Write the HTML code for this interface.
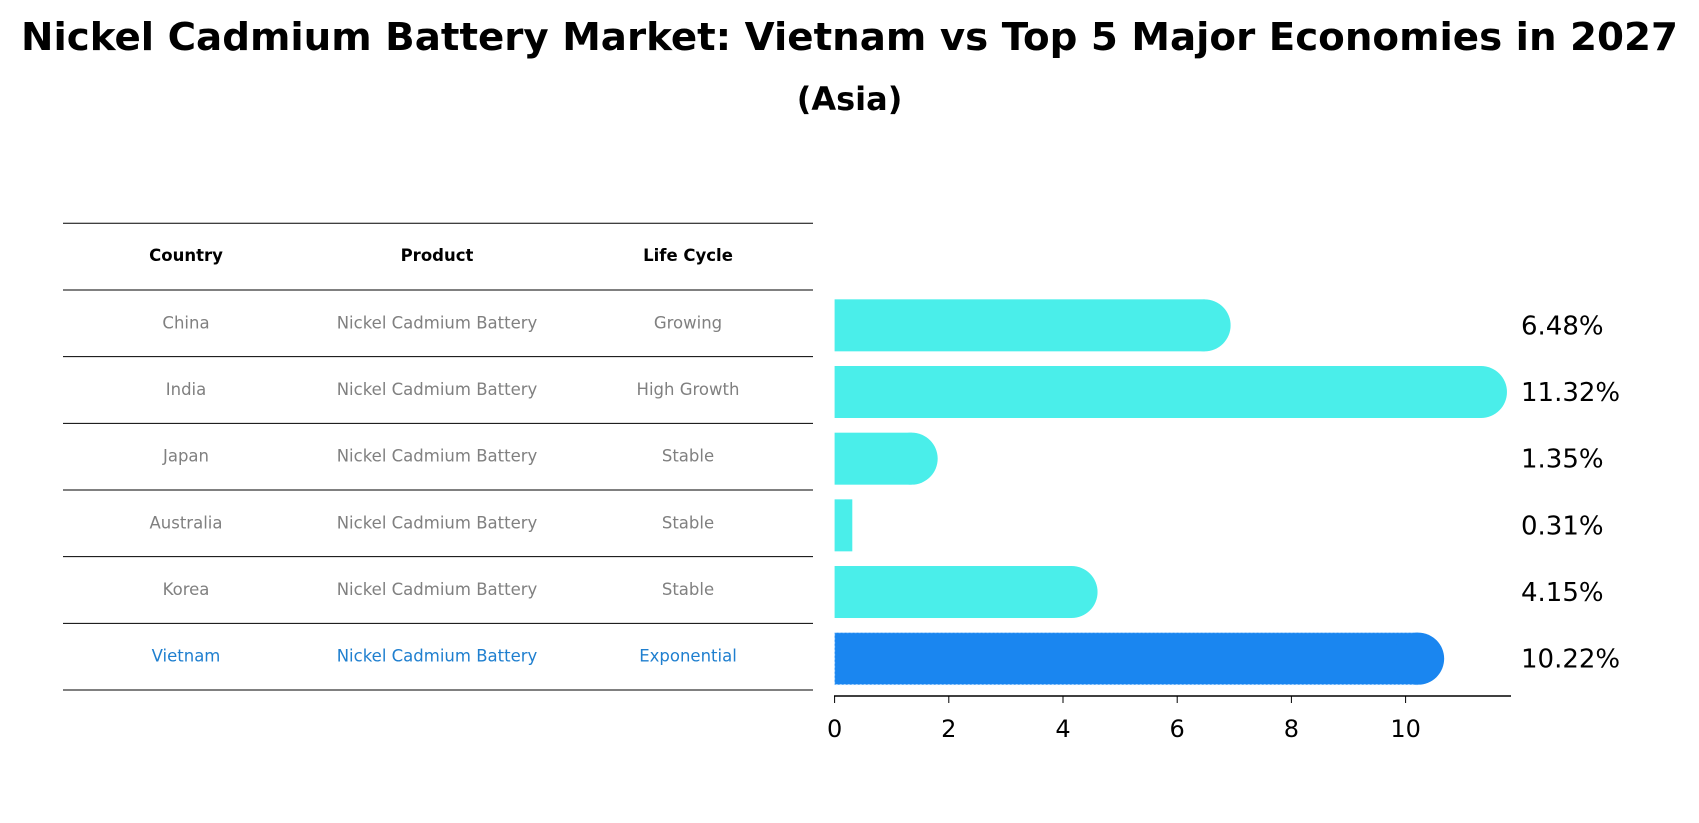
<!DOCTYPE html>
<html><head><meta charset="utf-8"><style>
html,body{margin:0;padding:0;background:#fff;}
svg{display:block;font-family:"DejaVu Sans","Liberation Sans",sans-serif;}
</style></head><body>
<svg id="chart" width="1699" height="823" viewBox="0 0 1699 823">
<text x="849.5" y="50" text-anchor="middle" font-size="38" font-weight="bold" fill="#000" textLength="1657" lengthAdjust="spacingAndGlyphs">Nickel Cadmium Battery Market: Vietnam vs Top 5 Major Economies in 2027</text>
<text x="849.5" y="110" text-anchor="middle" font-size="32" font-weight="bold" fill="#000">(Asia)</text>
<g id="table"></g>
<g id="bars"></g>
</svg>
<script>
const countries = ["China","India","Japan","Australia","Korea","Vietnam"];
const products = ["Nickel Cadmium Battery","Nickel Cadmium Battery","Nickel Cadmium Battery","Nickel Cadmium Battery","Nickel Cadmium Battery","Nickel Cadmium Battery"];
const lifeCycles = ["Growing","High Growth","Stable","Stable","Stable","Exponential"];
const values = [6.48, 11.32, 1.35, 0.31, 4.15, 10.22];
const valueLabels = ["6.48%","11.32%","1.35%","0.31%","4.15%","10.22%"];
const xTicks = [0,2,4,6,8,10];

const NS="http://www.w3.org/2000/svg";
function mk(tag,attrs,parent){const e=document.createElementNS(NS,tag);for(const k in attrs)e.setAttribute(k,attrs[k]);parent.appendChild(e);return e;}
const x0=834.6, xs=57.1;
function xScale(v){return x0+v*xs;}
const rowTop=290, rowH=66.67, barOff=2;
function yCenter(i){return rowTop+rowH*(i+0.5);}

// table
const tbl=document.getElementById('table');
const cols=[186,437,688];
const hdrs=["Country","Product","Life Cycle"];
hdrs.forEach((h,j)=>{
  const t=mk('text',{x:cols[j],y:261,'text-anchor':'middle','font-size':16.5,'font-weight':'bold',fill:'#000'},tbl);
  
  
  t.textContent=h;
});
const lineYs=[223.3];
for(let i=0;i<=countries.length;i++)lineYs.push(rowTop+rowH*i);
lineYs.forEach((y,i)=>{
  const l=mk('line',{x1:63,x2:813,y1:y,y2:y,stroke:'#000','stroke-width':1},tbl);
  
  
});
countries.forEach((c,i)=>{
  const col=i===countries.length-1?'#1f7fcf':'#808080';
  [c,products[i],lifeCycles[i]].forEach((txt,j)=>{
    const t=mk('text',{x:cols[j],y:yCenter(i)+5,'text-anchor':'middle','font-size':16.5,fill:col},tbl);
    
    
    t.textContent=txt;
  });
});

// bars
const g=document.getElementById('bars');
const bh=52, r=26;
values.forEach((v,i)=>{
  const cy=yCenter(i)+barOff;
  const color=i===values.length-1?'#1a86f0':'#4aeeea';
  const xe=xScale(v);
  const rect=mk('rect',{x:x0,y:cy-bh/2,width:xe-x0,height:bh,fill:color},g);
  
  
  if(i===values.length-1){rect.setAttribute('stroke','#bfe0ff');rect.setAttribute('stroke-dasharray','2,2');rect.setAttribute('stroke-width','1');}
  if(xe-x0>r){
    const c=mk('circle',{cx:xe,cy:cy,r:r,fill:color},g);
    
    
  }
  const t=mk('text',{x:1521,y:cy+9,'font-size':26,fill:'#000'},g);
  
  
  t.textContent=valueLabels[i];
});
const ax=mk('line',{x1:834,x2:1511,y1:696,y2:696,stroke:'#000','stroke-width':1.5},g);


xTicks.forEach(v=>{
  const tk=mk('line',{x1:xScale(v),x2:xScale(v),y1:696,y2:703,stroke:'#000','stroke-width':1},g);
  
  
  const t=mk('text',{x:xScale(v),y:737,'text-anchor':'middle','font-size':24,fill:'#000'},g);
  
  
  t.textContent=v;
});
</script>
</body></html>
